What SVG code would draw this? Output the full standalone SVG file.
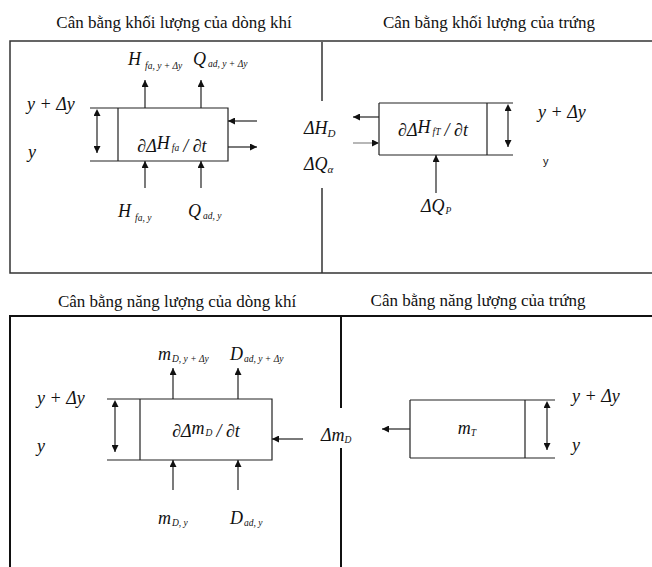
<svg xmlns="http://www.w3.org/2000/svg" width="652" height="567" viewBox="0 0 652 567">
<defs>
<marker id="ah" viewBox="0 0 10 10" refX="10" refY="5" markerWidth="7" markerHeight="7" markerUnits="userSpaceOnUse" orient="auto"><path d="M0,0 L10,5 L0,10 z" fill="#111"/></marker>
<marker id="ahs" viewBox="0 0 10 10" refX="0" refY="5" markerWidth="7" markerHeight="7" markerUnits="userSpaceOnUse" orient="auto-start-reverse"><path d="M0,0 L10,5 L0,10 z" fill="#111"/></marker>
</defs>
<style>
.t{font-family:"Liberation Serif","Times New Roman",serif;font-size:17px;fill:#111}
.m{font-family:"Liberation Serif","Times New Roman",serif;font-style:italic;font-size:18px;fill:#111}
.s{font-size:9.5px}
.frame{fill:none;stroke:#333;stroke-width:1.5}
.frame2{fill:none;stroke:#111;stroke-width:2}
.ln{fill:none;stroke:#222;stroke-width:1.2}
.ar{fill:none;stroke:#222;stroke-width:1.2;marker-end:url(#ah)}
.da{fill:none;stroke:#222;stroke-width:1.2;marker-end:url(#ah);marker-start:url(#ahs)}
</style>
<rect width="652" height="567" fill="#fff"/>

<g id="titles">
<text class="t" x="174" y="28" text-anchor="middle">Cân bằng khối lượng của dòng khí</text>
<text class="t" x="489" y="28" text-anchor="middle">Cân bằng khối lượng của trứng</text>
<text class="t" x="177" y="307" text-anchor="middle">Cân bằng năng lượng của dòng khí</text>
<text class="t" x="478" y="306" text-anchor="middle">Cân bằng năng lượng của trứng</text>
</g>

<g id="frames">
<path class="frame" d="M653,41 L10,41 L10,273 L653,273"/>
<path class="frame" d="M322,42 V101 M322,188 V273"/>
<path class="frame2" d="M653,316 L10,316 L10,568"/>
<path class="frame2" d="M341,316 V408 M341,448 V568"/>
</g>

<g id="node-gas-mass">
<path class="ln" d="M90,108 H228 V161 H90 M118,108 V161"/>
<text class="m" x="172" y="152" text-anchor="middle">∂Δ<tspan dy="-3">H</tspan><tspan class="s" dx="2" dy="2">fa</tspan><tspan dx="4" dy="1">/ ∂t</tspan></text>
<text class="m" x="27" y="110">y + Δy</text>
<text class="m" x="28" y="158">y</text>
<text class="m" x="128" y="65">H<tspan class="s" dx="4" dy="4">fa, y + Δy</tspan></text>
<text class="m" x="193" y="65">Q<tspan class="s" dx="2" dy="2">ad, y + Δy</tspan></text>
<text class="m" x="118" y="217">H<tspan class="s" dx="4" dy="4">fa, y</tspan></text>
<text class="m" x="188" y="217">Q<tspan class="s" dx="2" dy="2">ad, y</tspan></text>
</g>

<g id="node-egg-mass">
<path class="ln" d="M379,103 H513 M379,155 H513 M379,103 V155 M487,103 V155"/>
<text class="m" x="433" y="136" text-anchor="middle">∂Δ<tspan dy="-3">H</tspan><tspan class="s" dx="2" dy="2">fT</tspan><tspan dx="4" dy="1">/ ∂t</tspan></text>
<text class="m" x="304" y="134">ΔH<tspan class="s" style="font-size:11px" dy="3">D</tspan></text>
<text class="m" x="304" y="170">ΔQ<tspan class="s" style="font-size:11px" dy="3">α</tspan></text>
<text class="m" x="421" y="212">ΔQ<tspan class="s" dx="1" dy="2">P</tspan></text>
<text class="m" x="538" y="118">y + Δy</text>
<text x="543" y="165" style="font-family:'Liberation Sans',Arial,sans-serif;font-size:11px;fill:#111">y</text>
</g>

<g id="node-gas-energy">
<path class="ln" d="M107,399 H272 V460 H107 M140,399 V460"/>
<text class="m" x="206" y="437" text-anchor="middle">∂Δ<tspan dy="-3">m</tspan><tspan class="s" dx="1" dy="2">D</tspan><tspan dx="4" dy="1">/ ∂t</tspan></text>
<text class="m" x="37" y="404">y + Δy</text>
<text class="m" x="37" y="452">y</text>
<text class="m" x="158" y="360">m<tspan class="s" dx="1" dy="2">D, y + Δy</tspan></text>
<text class="m" x="230" y="360">D<tspan class="s" dx="1" dy="2">ad, y + Δy</tspan></text>
<text class="m" x="158" y="524">m<tspan class="s" dx="1" dy="2">D, y</tspan></text>
<text class="m" x="230" y="524">D<tspan class="s" dx="1" dy="2">ad, y</tspan></text>
<text class="m" x="321" y="441">Δm<tspan class="s" dy="2">D</tspan></text>
</g>

<g id="node-egg-energy">
<path class="ln" d="M410,400 H555 M410,458 H555 M410,400 V458 M525,400 V458"/>
<text class="m" x="467" y="434" text-anchor="middle">m<tspan class="s" dy="2">T</tspan></text>
<text class="m" x="572" y="402">y + Δy</text>
<text class="m" x="572" y="451">y</text>
</g>

<g id="connectors">
<path class="da" d="M97,116 V153"/>
<path class="ar" d="M145,108 V80"/>
<path class="ar" d="M201,108 V80"/>
<path class="ar" d="M145,188 V161"/>
<path class="ar" d="M201,188 V161"/>
<path class="ar" d="M257,121 H228"/>
<path class="ar" d="M228,147 H257"/>
<path class="da" d="M508,111 V147"/>
<path class="ar" d="M379,117 H353"/>
<path class="ar" d="M353,143 H379" style="stroke:#888"/>
<path class="ar" d="M436,193 V155"/>
<path class="da" d="M115,407 V452"/>
<path class="ar" d="M173,399 V368"/>
<path class="ar" d="M238,399 V368"/>
<path class="ar" d="M173,490 V460"/>
<path class="ar" d="M238,490 V460"/>
<path class="ar" d="M303,439 H272"/>
<path class="ar" d="M410,429 H382"/>
<path class="da" d="M547,408 V450"/>
</g>
</svg>
